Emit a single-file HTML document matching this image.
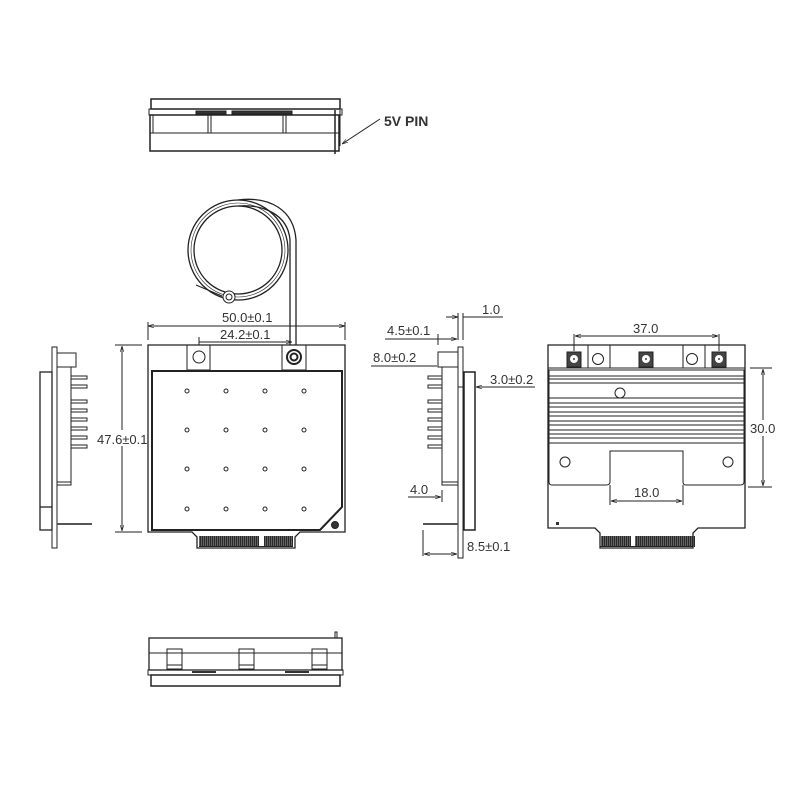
<!DOCTYPE html>
<html><head><meta charset="utf-8"><style>
html,body{margin:0;padding:0;background:#fff}
svg{display:block}
text{font-family:"Liberation Sans",sans-serif;font-weight:normal;fill:#333;stroke:none;font-size:13px}
</style></head><body>
<svg width="800" height="800" viewBox="0 0 800 800" xmlns="http://www.w3.org/2000/svg" fill="none" stroke="#222" stroke-width="1">
<defs>
<marker id="a" viewBox="0 0 10 10" refX="10" refY="5" markerWidth="6" markerHeight="6" orient="auto-start-reverse"><path d="M0,2 L10,5 L0,8" fill="none" stroke="#222"/></marker>
<pattern id="p" width="2" height="12" patternUnits="userSpaceOnUse"><rect x="0" y="0" width="1.2" height="12" fill="#444"/></pattern>
</defs>
<!-- TOP VIEW -->
<rect x="151" y="99" width="189" height="10" stroke-width="1.5"/>
<rect x="149" y="109" width="193" height="6"/>
<rect x="150" y="115" width="189" height="36" stroke-width="1.5"/>
<line x1="150" y1="133" x2="339" y2="133"/>
<line x1="153" y1="115" x2="153" y2="133"/><line x1="208" y1="115" x2="208" y2="133"/><line x1="211" y1="115" x2="211" y2="133"/>
<line x1="283" y1="115" x2="283" y2="133"/><line x1="286" y1="115" x2="286" y2="133"/>
<rect x="196" y="111" width="30" height="3" fill="#333"/><rect x="232" y="111" width="60" height="3" fill="#333"/>
<line x1="335" y1="110" x2="335" y2="154" stroke-width="1.5"/><line x1="340" y1="110" x2="340" y2="146"/>
<line x1="380" y1="119" x2="342" y2="144" marker-end="url(#a)"/>
<text x="384" y="126" style="font-weight:bold;font-size:14px">5V PIN</text>
<!-- ANTENNA -->
<circle cx="238" cy="250" r="50" stroke-width="1.3"/><circle cx="238" cy="250" r="44" stroke-width="1.3"/><circle cx="238" cy="250" r="47" stroke-width="0.6"/>
<path d="M238,200 C270,196 294,210 296,240 L296,345" stroke-width="1.3"/>
<path d="M238,206 C262,204 288,214 290,240 L290,345" stroke-width="1.3"/>
<path d="M196,285 L222,296"/>
<circle cx="229" cy="297" r="6" fill="#fff"/><circle cx="229" cy="297" r="3"/>
<!-- MAIN BOARD -->
<path d="M148,345 H345 V532 H300 L295,537 V548 H197 V537 L192,532 H148 Z" stroke-width="1.3"/>
<rect x="187" y="345" width="23" height="25"/><circle cx="199" cy="357" r="6"/>
<rect x="282" y="345" width="24" height="25"/><circle cx="294" cy="357" r="7" stroke-width="2"/><circle cx="294" cy="357" r="3.5" stroke-width="2"/>
<path d="M152,371 H342 V507 L320,530 H152 Z" stroke-width="2"/>
<circle cx="335" cy="525" r="3.5" fill="#333"/>
<g stroke-width="1">
<circle cx="187" cy="391" r="2"/><circle cx="226" cy="391" r="2"/><circle cx="265" cy="391" r="2"/><circle cx="304" cy="391" r="2"/>
<circle cx="187" cy="430" r="2"/><circle cx="226" cy="430" r="2"/><circle cx="265" cy="430" r="2"/><circle cx="304" cy="430" r="2"/>
<circle cx="187" cy="469" r="2"/><circle cx="226" cy="469" r="2"/><circle cx="265" cy="469" r="2"/><circle cx="304" cy="469" r="2"/>
<circle cx="187" cy="509" r="2"/><circle cx="226" cy="509" r="2"/><circle cx="265" cy="509" r="2"/><circle cx="304" cy="509" r="2"/>
</g>
<rect x="199" y="536" width="60" height="11" fill="url(#p)" stroke="none"/><rect x="264" y="536" width="29" height="11" fill="url(#p)" stroke="none"/>
<line x1="199" y1="546.5" x2="293" y2="546.5"/>
<!-- dims main -->
<line x1="148" y1="322" x2="148" y2="340"/><line x1="345" y1="322" x2="345" y2="340"/>
<line x1="148" y1="326" x2="345" y2="326" marker-start="url(#a)" marker-end="url(#a)"/>
<text x="222" y="322">50.0±0.1</text>
<line x1="199" y1="337" x2="199" y2="345"/>
<line x1="199" y1="342" x2="292" y2="342" marker-end="url(#a)"/>
<text x="220" y="339">24.2±0.1</text>
<line x1="115" y1="345" x2="142" y2="345"/><line x1="115" y1="532" x2="142" y2="532"/>
<line x1="122" y1="346" x2="122" y2="531" marker-start="url(#a)" marker-end="url(#a)"/>
<rect x="97" y="430" width="50" height="16" fill="#fff" stroke="none"/>
<text x="97" y="444">47.6±0.1</text>
<!-- LEFT SIDE VIEW -->
<rect x="52" y="347" width="5" height="201"/>
<rect x="57" y="353" width="19" height="14"/>
<path d="M57,367 H71 V485 H57"/><line x1="57" y1="482" x2="71" y2="482"/>
<path d="M71,376 H87 V379 H71 M71,385 H87 V388 H71 M71,400 H87 V403 H71 M71,409 H87 V412 H71 M71,418 H87 V421 H71 M71,427 H87 V430 H71 M71,436 H87 V439 H71 M71,445 H87 V448 H71"/>
<rect x="40" y="372" width="12" height="158" stroke-width="1.3"/><line x1="40" y1="507" x2="52" y2="507" stroke-width="1.3"/>
<line x1="57" y1="524" x2="92" y2="524" stroke-width="2" stroke="#555"/>
<!-- MIDDLE SIDE VIEW -->
<rect x="458" y="347" width="5" height="211"/>
<rect x="438" y="352" width="20" height="15"/>
<path d="M458,367 H442 V485 H458"/><line x1="442" y1="482" x2="458" y2="482"/>
<path d="M442,376 H428 V379 H442 M442,385 H428 V388 H442 M442,400 H428 V403 H442 M442,409 H428 V412 H442 M442,418 H428 V421 H442 M442,427 H428 V430 H442 M442,436 H428 V439 H442 M442,445 H428 V448 H442"/>
<rect x="464" y="372" width="11" height="158" stroke-width="1.5"/>
<line x1="423" y1="524" x2="458" y2="524" stroke-width="2" stroke="#555"/>
<!-- middle dims -->
<line x1="458" y1="313" x2="458" y2="340"/><line x1="463" y1="313" x2="463" y2="340"/>
<line x1="446" y1="317" x2="458" y2="317" marker-end="url(#a)"/><line x1="463" y1="317" x2="503" y2="317"/>
<text x="482" y="314">1.0</text>
<line x1="438" y1="334" x2="438" y2="345"/>
<line x1="385" y1="339" x2="438" y2="339"/><line x1="438" y1="339" x2="457" y2="339" marker-end="url(#a)"/>
<text x="387" y="335">4.5±0.1</text>
<line x1="371" y1="366" x2="437" y2="366"/>
<text x="373" y="362">8.0±0.2</text>
<line x1="463" y1="387" x2="458" y2="387"/><line x1="535" y1="387" x2="476" y2="387" marker-end="url(#a)"/>
<text x="490" y="384">3.0±0.2</text>
<line x1="442" y1="490" x2="442" y2="502"/>
<line x1="408" y1="497" x2="441" y2="497" marker-end="url(#a)"/>
<text x="410" y="494">4.0</text>
<line x1="423" y1="530" x2="423" y2="556"/>
<line x1="424" y1="554" x2="457" y2="554" marker-start="url(#a)" marker-end="url(#a)"/>
<text x="467" y="551">8.5±0.1</text>
<!-- RIGHT VIEW -->
<path d="M548,345 H745 V528 H698 L693,533 V548 H600 V533 L595,528 H548 Z" stroke-width="1.3"/>
<line x1="548" y1="368" x2="745" y2="368"/>
<line x1="588" y1="345" x2="588" y2="368"/><line x1="610" y1="345" x2="610" y2="368"/>
<line x1="683" y1="345" x2="683" y2="368"/><line x1="705" y1="345" x2="705" y2="368"/>
<rect x="567" y="352" width="14" height="15" fill="#444"/><circle cx="574" cy="359" r="3.5" fill="#fff" stroke="#fff"/><circle cx="574" cy="359" r="1" fill="#444" stroke="none"/>
<rect x="639" y="352" width="14" height="15" fill="#444"/><circle cx="646" cy="359" r="3.5" fill="#fff" stroke="#fff"/><circle cx="646" cy="359" r="1" fill="#444" stroke="none"/>
<rect x="712" y="352" width="14" height="15" fill="#444"/><circle cx="719" cy="359" r="3.5" fill="#fff" stroke="#fff"/><circle cx="719" cy="359" r="1" fill="#444" stroke="none"/>
<circle cx="598" cy="359" r="5.5"/><circle cx="692" cy="359" r="5.5"/>
<path d="M549,370 H744 V482 Q744,485 740,485 H686 Q683,485 683,482 V451 H610 V482 Q610,485 606,485 H552 Q549,485 549,482 Z"/>
<g stroke-width="1">
<line x1="549" y1="376" x2="744" y2="376"/><line x1="549" y1="379" x2="744" y2="379"/><line x1="549" y1="383" x2="744" y2="383"/>
<line x1="549" y1="398" x2="744" y2="398"/><line x1="549" y1="403" x2="744" y2="403"/><line x1="549" y1="407" x2="744" y2="407"/>
<line x1="549" y1="412" x2="744" y2="412"/><line x1="549" y1="416" x2="744" y2="416"/><line x1="549" y1="421" x2="744" y2="421"/>
<line x1="549" y1="425" x2="744" y2="425"/><line x1="549" y1="430" x2="744" y2="430"/><line x1="549" y1="434" x2="744" y2="434"/>
<line x1="549" y1="438" x2="744" y2="438"/><line x1="549" y1="443" x2="744" y2="443"/>
</g>
<circle cx="620" cy="393" r="5" fill="#fff"/>
<circle cx="565" cy="462" r="5"/><circle cx="728" cy="462" r="5"/>
<rect x="556" y="522" width="3" height="3" fill="#333" stroke="none"/>
<rect x="601" y="536" width="30" height="11" fill="url(#p)" stroke="none"/><rect x="635" y="536" width="60" height="11" fill="url(#p)" stroke="none"/>
<line x1="600" y1="546.5" x2="693" y2="546.5"/>
<line x1="574" y1="334" x2="574" y2="351"/><line x1="719" y1="334" x2="719" y2="351"/>
<line x1="575" y1="336" x2="718" y2="336" marker-start="url(#a)" marker-end="url(#a)"/>
<text x="633" y="333">37.0</text>
<line x1="610" y1="485" x2="610" y2="505"/><line x1="683" y1="485" x2="683" y2="505"/>
<line x1="611" y1="501" x2="682" y2="501" marker-start="url(#a)" marker-end="url(#a)"/>
<text x="634" y="497">18.0</text>
<line x1="750" y1="368" x2="772" y2="368"/><line x1="748" y1="487" x2="772" y2="487"/>
<line x1="763" y1="369" x2="763" y2="486" marker-start="url(#a)" marker-end="url(#a)"/>
<rect x="748" y="420" width="30" height="16" fill="#fff" stroke="none"/>
<text x="750" y="433">30.0</text>
<!-- BOTTOM VIEW -->
<rect x="149" y="638" width="193" height="32" stroke-width="1.3"/>
<line x1="149" y1="653" x2="342" y2="653"/>
<path d="M335,638 V632 H337 V638"/>
<rect x="167" y="649" width="15" height="20"/><line x1="167" y1="665" x2="182" y2="665"/>
<rect x="239" y="649" width="15" height="20"/><line x1="239" y1="665" x2="254" y2="665"/>
<rect x="312" y="649" width="15" height="20"/><line x1="312" y1="665" x2="327" y2="665"/>
<rect x="148" y="670" width="195" height="5"/>
<rect x="192" y="671" width="24" height="2" fill="#333" stroke="none"/><rect x="285" y="671" width="24" height="2" fill="#333" stroke="none"/>
<rect x="151" y="675" width="189" height="11" stroke-width="1.5"/>
</svg>
</body></html>
